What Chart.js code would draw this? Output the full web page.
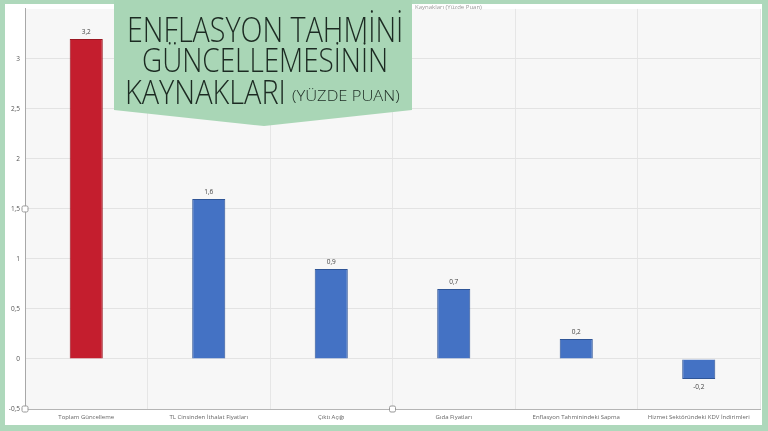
<!DOCTYPE html>
<html><head><meta charset="utf-8">
<script src="https://cdn.jsdelivr.net/npm/chart.js@4/dist/chart.umd.min.js"></script>
<style>
html,body{margin:0;padding:0;width:768px;height:431px;overflow:hidden;background:#fff;}
#wrap{position:absolute;left:5px;top:0;width:757px;height:425px;}
#frame{position:absolute;left:0;top:0;width:768px;height:431px;box-sizing:border-box;border-style:solid;border-color:#aed8bb;border-width:4px 6px 6px 5px;pointer-events:none;}
#box{position:absolute;left:114px;top:0;width:298px;height:127px;background:#a9d6b6;clip-path:polygon(0 0,100% 0,100% 110px,150px 126px,0 110px);}
.t{position:absolute;font-family:"Open Sans",sans-serif;font-weight:300;color:#1c2a22;white-space:nowrap;transform-origin:0 0;line-height:1;}
</style></head><body>
<div id="wrap"><canvas id="c"></canvas></div>
<div id="frame"></div>
<div id="box"></div>
<div class="t" id="l1" style="left:127px;top:11px;font-size:35px;">ENFLASYON TAHMİNİ</div>
<div class="t" id="l2" style="left:142px;top:43px;font-size:33px;">GÜNCELLEMESİNİN</div>
<div class="t" id="l3" style="left:125px;top:75px;font-size:33px;">KAYNAKLARI</div>
<div class="t" id="l4" style="left:292px;top:88px;font-size:15px;">(YÜZDE PUAN)</div>
<script>
const categories = ["Toplam Güncelleme","TL Cinsinden İthalat Fiyatları","Çıktı Açığı","Gıda Fiyatları","Enflasyon Tahminindeki Sapma","Hizmet Sektöründeki KDV İndirimleri"];
const values = [3.2, 1.6, 0.9, 0.7, 0.2, -0.2];
const yTicks = [-0.5, 0, 0.5, 1, 1.5, 2, 2.5, 3];
const chartTitle = "Kaynakları (Yüzde Puan)";

function fitWidth(id, w){const e=document.getElementById(id);const s=w/e.offsetWidth;e.style.transform='scaleX('+s+')';}
fitWidth('l1',276);fitWidth('l2',246);fitWidth('l3',161);fitWidth('l4',108);

const fmt = v => String(v).replace('.', ',');
const fills = values.map((v,i)=> i===0 ? '#c41e2e' : '#4472c4');
const borders = values.map((v,i)=> i===0 ? '#9a1722' : '#2f5597');

const extras = {
  id:'extras',
  beforeDraw(chart){
    const {ctx, chartArea:a} = chart;
    ctx.save();
    ctx.fillStyle='#f7f7f7';
    ctx.fillRect(a.left,a.top,a.right-a.left,a.bottom-a.top);
    ctx.restore();
  },
  afterDatasetsDraw(chart){
    const {ctx, chartArea:a} = chart;
    const meta = chart.getDatasetMeta(0);
    ctx.save();
    ctx.font='6.5px "Open Sans", sans-serif';
    ctx.fillStyle='#444';
    ctx.textAlign='center';
    meta.data.forEach((bar,i)=>{
      const v=values[i];
      if(v>=0){ctx.textBaseline='bottom';ctx.fillText(fmt(v),bar.x,bar.y-4);}
      else{ctx.textBaseline='top';ctx.fillText(fmt(v),bar.x,bar.y+5);}
    });
    ctx.font='6px "Open Sans", sans-serif';
    ctx.fillStyle='#999';
    ctx.textAlign='left';ctx.textBaseline='top';
    ctx.fillText(chartTitle, 410, 4);
    const hs=[[a.left,(a.top+a.bottom)/2],[a.left,a.bottom],[(a.left+a.right)/2,a.bottom]];
    hs.forEach(([x,y])=>{
      ctx.fillStyle='#fff';ctx.strokeStyle='#999';ctx.lineWidth=1;
      ctx.beginPath();ctx.roundRect(x-3,y-3,6,6,1.5);ctx.fill();ctx.stroke();
    });
    ctx.restore();
  }
};

new Chart(document.getElementById('c'),{
  type:'bar',
  data:{labels:categories,datasets:[{data:values,backgroundColor:fills,borderColor:borders,borderWidth:1,categoryPercentage:1,barPercentage:0.27}]},
  options:{
    responsive:true,maintainAspectRatio:false,animation:false,
    layout:{padding:{left:0,right:2,top:0,bottom:0}},
    plugins:{legend:{display:false},tooltip:{enabled:false}},
    scales:{
      x:{
        grid:{offset:true,color:'#e6e6e6',drawTicks:false},
        border:{color:'#b5b5b5'},
        ticks:{font:{size:6,family:'"Open Sans", sans-serif'},color:'#666',padding:5,maxRotation:0,autoSkip:false},
        afterFit(s){s.height=16;}
      },
      y:{
        min:-0.5,max:3.5,
        afterBuildTicks(s){s.ticks=yTicks.map(v=>({value:v}));},
        grid:{color:'#e3e3e3',drawTicks:false},
        border:{color:'#a8a8a8'},
        ticks:{font:{size:6.5,family:'"Open Sans", sans-serif'},color:'#555',padding:5,callback:v=>fmt(v)},
        afterFit(s){s.width=20;}
      }
    }
  },
  plugins:[extras]
});
</script>
</body></html>
